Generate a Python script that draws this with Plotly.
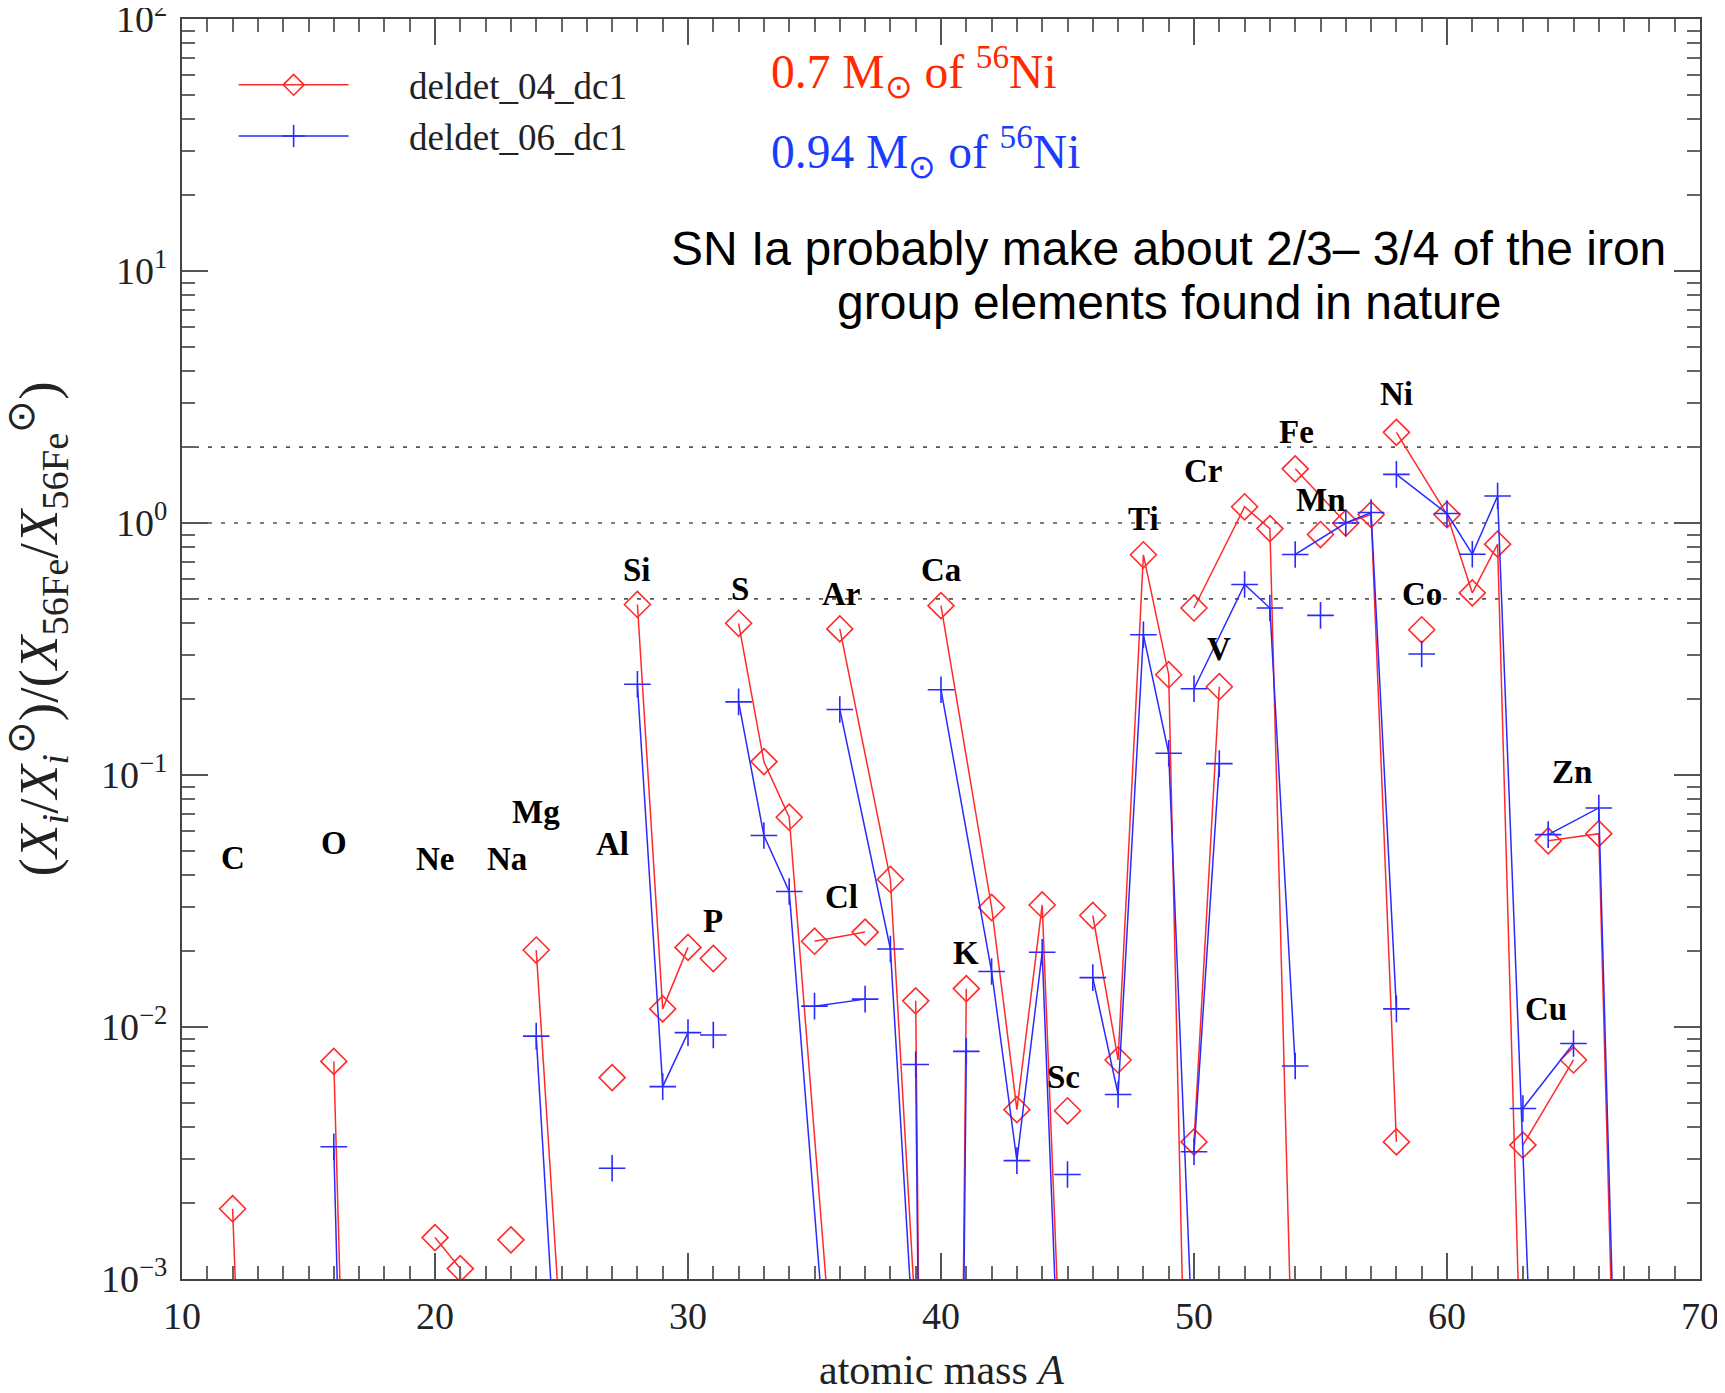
import plotly.graph_objects as go

# isotope ratios (X_i/X_i_sun)/(X_56Fe/X_56Fe_sun), one list per element
elements = ["C", "O", "Ne", "Na", "Mg", "Al", "Si", "P", "S", "Cl", "Ar", "K",
            "Ca", "Sc", "Ti", "V", "Cr", "Mn", "Fe", "Co", "Ni", "Cu", "Zn"]

isotope_mass = [
    [12, 13], [16, 17], [20, 21, 22], [23], [24, 25], [27], [28, 29, 30], [31],
    [32, 33, 34, 36], [35, 37], [36, 38, 40], [39, 40, 41], [40, 42, 43, 44, 46],
    [45], [46, 47, 48, 49, 50], [50, 51], [50, 52, 53, 54], [55], [54, 56, 57, 58],
    [59], [58, 60, 61, 62, 64], [63, 65], [64, 66, 67],
]

ratio_04 = [
    [1.9e-3, 4e-6], [7.3e-3, 1.8e-6], [1.46e-3, 1.1e-3, 1e-6], [1.43e-3],
    [0.0202, 5.4e-4], [6.3e-3], [0.475, 0.0118, 0.0207], [0.0187],
    [0.40, 0.113, 0.068, 2e-4], [0.0219, 0.0238], [0.38, 0.0385, 1.2e-5],
    [0.0127, 1e-12, 0.0142], [0.47, 0.0298, 4.7e-3, 0.0305, 2.5e-7],
    [4.65e-3], [0.0277, 7.4e-3, 0.748, 0.25, 8e-6], [3.5e-3, 0.224],
    [0.46, 1.16, 0.95, 1.5e-4], [0.90], [1.64, 1.0, 1.08, 3.5e-3], [0.377],
    [2.29, 1.08, 0.528, 0.824, 5e-8], [3.4e-3, 7.4e-3], [0.0548, 0.0585, 1.1e-5],
]

ratio_06 = [
    [None, None], [3.35e-3, 4e-7], [None, None, None], [None],
    [9.2e-3, 1.9e-4], [2.75e-3], [0.229, 5.8e-3, 9.5e-3], [9.3e-3],
    [0.195, 0.0575, 0.0345, 1e-4], [0.0121, 0.0129], [0.182, 0.0204, 8e-6],
    [7.1e-3, 1e-12, 8.0e-3], [0.218, 0.0166, 2.95e-3, 0.0198, 1.2e-7],
    [2.6e-3], [0.0157, 5.4e-3, 0.36, 0.122, 4e-4], [3.2e-3, 0.111],
    [0.22, 0.57, 0.46, 7.0e-3], [0.43], [0.75, 1.0, 1.1, 0.0118], [0.302],
    [1.56, 1.09, 0.752, 1.28, 8e-6], [4.75e-3, 8.6e-3], [0.058, 0.074, 1.9e-5],
]

# where each element symbol is written (mass number, log10 ratio)
label_mass = [12.0, 16.0, 20.0, 22.85, 24.0, 27.0, 28.0, 31.0, 32.05, 36.05, 36.05,
              41.0, 40.0, 44.85, 48.0, 51.0, 50.35, 55.0, 54.05, 59.0, 58.0, 63.9, 64.95]
label_log = [-1.33, -1.27, -1.335, -1.335, -1.145, -1.275, -0.185, -1.58, -0.26,
             -1.485, -0.28, -1.705, -0.185, -2.2, 0.015, -0.5, 0.205, 0.09, 0.36,
             -0.28, 0.51, -1.93, -0.99]

reference_levels = [0.5, 1.0, 2.0]

SERIF = "Liberation Serif, Times New Roman, serif"
SANS = "Liberation Sans, Arial, sans-serif"
RED = "#ff2b2b"
BLUE = "#2a2aff"


def flatten(masses, values):
    xs, ys = [], []
    for m, v in zip(masses, values):
        xs += list(m) + [None]
        ys += list(v) + [None]
    return xs, ys


fig = go.Figure()

for level in reference_levels:
    fig.add_trace(go.Scatter(
        x=[10, 70], y=[level, level], mode="lines", showlegend=False,
        hoverinfo="skip", line={"color": "#555555", "width": 1.6, "dash": "4px,9px"},
    ))

x04, y04 = flatten(isotope_mass, ratio_04)
x06, y06 = flatten(isotope_mass, ratio_06)

# em/en spaces push the legend text away from the sample line, as in the original
fig.add_trace(go.Scatter(
    x=x04, y=y04, mode="lines+markers", name="\u2003\u2002deldet_04_dc1",
    line={"color": RED, "width": 1.5},
    marker={"symbol": "diamond-open", "size": 20, "color": RED, "line": {"width": 1.6}},
))
fig.add_trace(go.Scatter(
    x=x06, y=y06, mode="lines+markers", name="\u2003\u2002deldet_06_dc1",
    line={"color": BLUE, "width": 1.5},
    marker={"symbol": "cross-thin-open", "size": 19, "color": BLUE, "line": {"width": 1.6, "color": BLUE}},
))

for name, xm, yl in zip(elements, label_mass, label_log):
    fig.add_annotation(x=xm, y=yl, text=f"<b>{name}</b>", showarrow=False,
                       font={"family": SERIF, "size": 33, "color": "black"})

note_style = dict(xref="paper", yref="paper", showarrow=False, yanchor="middle")
fig.add_annotation(x=0.387, y=0.958, xanchor="left",
                   text="0.7 M<sub>\u2299</sub> of <sup>56</sup>Ni",
                   font={"family": SERIF, "size": 47.5, "color": "#ff2a00"}, **note_style)
fig.add_annotation(x=0.387, y=0.895, xanchor="left",
                   text="0.94 M<sub>\u2299</sub> of <sup>56</sup>Ni",
                   font={"family": SERIF, "size": 47.5, "color": "#1a3cff"}, **note_style)
fig.add_annotation(x=0.650, y=0.818, xanchor="center",
                   text="SN Ia probably make about 2/3\u2013 3/4 of the iron",
                   font={"family": SANS, "size": 48, "color": "black"}, **note_style)
fig.add_annotation(x=0.650, y=0.775, xanchor="center",
                   text="group elements found in nature",
                   font={"family": SANS, "size": 48, "color": "black"}, **note_style)

# axis titles, written as notes so they can sit where the original has them
fig.add_annotation(x=-0.0945, y=0.516, xanchor="center", textangle=-90,
                   text="(<i>X<sub>i</sub></i>/<i>X</i><sub><i>i</i></sub><sup>\u2299</sup>)/"
                        "(<i>X</i><sub>56Fe</sub>/<i>X</i><sub>56Fe</sub><sup>\u2299</sup>)",
                   font={"family": SERIF, "size": 55, "color": "#222222"}, **note_style)
fig.add_annotation(x=0.5, y=-0.0722, xanchor="center", text="atomic mass <i>A</i>",
                   font={"family": SERIF, "size": 42, "color": "#222222"}, **note_style)

major_y = [10.0 ** e for e in range(-3, 3)]
major_y_text = ["10<sup>\u22123</sup>", "10<sup>\u22122</sup>", "10<sup>\u22121</sup>",
                "10<sup>0</sup>", "10<sup>1</sup>", "10<sup>2</sup>"]
minor_y = [m * 10.0 ** e for e in range(-3, 2) for m in range(2, 10)]

axis_common = dict(
    showline=True, linecolor="#444444", linewidth=2, mirror="allticks",
    ticks="inside", ticklen=26, tickwidth=2, tickcolor="#555555",
    showgrid=False, zeroline=False, automargin=False, ticklabeloverflow="allow",
    tickfont={"family": SERIF, "size": 38, "color": "#222222"},
)

fig.update_xaxes(
    range=[10, 70], tick0=10, dtick=10,
    minor={"ticks": "inside", "ticklen": 13, "tickwidth": 2, "tickcolor": "#666666", "dtick": 1},
    ticklabelstandoff=2,
    **axis_common,
)
fig.update_yaxes(
    type="log", range=[-3, 2], tickmode="array", tickvals=major_y, ticktext=major_y_text,
    minor={"ticks": "inside", "ticklen": 13, "tickwidth": 2, "tickcolor": "#666666",
           "tickmode": "array", "tickvals": minor_y},
    ticklabelstandoff=5,
    **axis_common,
)

# page body adds an 8 px margin, so the figure is 16 px smaller than the window
fig.update_layout(
    width=1709, height=1377,
    margin={"l": 174, "r": 17, "t": 11, "b": 106, "autoexpand": False},
    plot_bgcolor="white", paper_bgcolor="white",
    showlegend=True,
    legend={"x": 0.034, "y": 0.972, "xanchor": "left", "yanchor": "top",
            "bgcolor": "rgba(0,0,0,0)", "itemwidth": 110, "tracegroupgap": 0,
            "font": {"family": SERIF, "size": 37, "color": "#222222"}},
)

fig.write_html("out.html")
